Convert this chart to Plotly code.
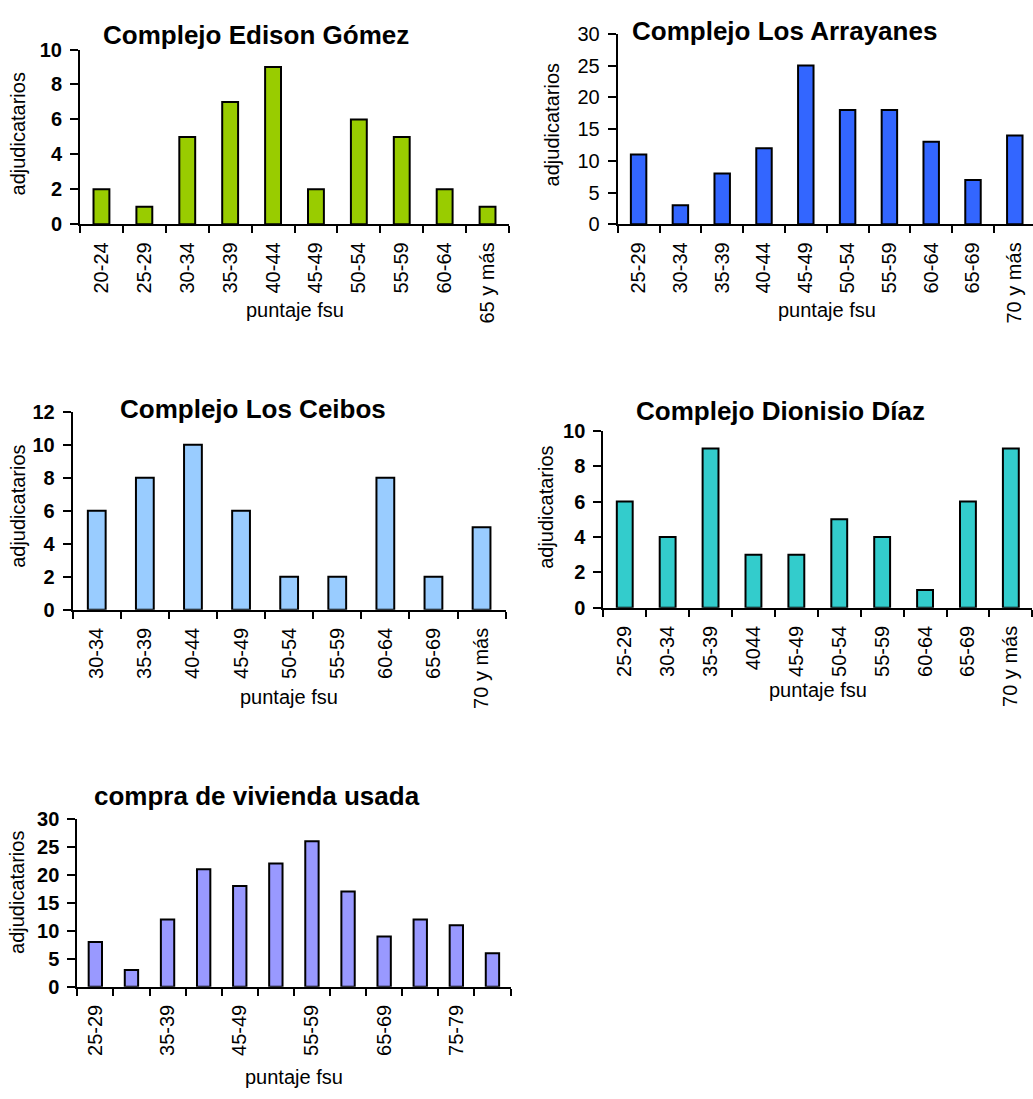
import plotly.graph_objects as go

# ---- data -------------------------------------------------------------
edison_cats = ["20-24", "25-29", "30-34", "35-39", "40-44", "45-49",
               "50-54", "55-59", "60-64", "65 y más"]
edison_vals = [2, 1, 5, 7, 9, 2, 6, 5, 2, 1]

arrayanes_cats = ["25-29", "30-34", "35-39", "40-44", "45-49", "50-54",
                  "55-59", "60-64", "65-69", "70 y más"]
arrayanes_vals = [11, 3, 8, 12, 25, 18, 18, 13, 7, 14]

ceibos_cats = ["30-34", "35-39", "40-44", "45-49", "50-54", "55-59",
               "60-64", "65-69", "70 y más"]
ceibos_vals = [6, 8, 10, 6, 2, 2, 8, 2, 5]

dionisio_cats = ["25-29", "30-34", "35-39", "4044", "45-49", "50-54",
                 "55-59", "60-64", "65-69", "70 y más"]
dionisio_vals = [6, 4, 9, 3, 3, 5, 4, 1, 6, 9]

usada_cats = ["25-29", "30-34", "35-39", "40-44", "45-49", "50-54",
              "55-59", "60-64", "65-69", "70-74", "75-79", "80-84"]
usada_vals = [8, 3, 12, 21, 18, 22, 26, 17, 9, 12, 11, 6]
usada_ticktext = ["25-29", "", "35-39", "", "45-49", "", "55-59", "",
                  "65-69", "", "75-79", ""]

# ---- panel layout (pixel boxes on a 1033 x 1099 page) -----------------
W, H = 1033, 1099
FONT = "Liberation Sans, Arial, sans-serif"

panels = [
    dict(title="Complejo Edison Gómez", cats=edison_cats, vals=edison_vals,
         ticktext=edison_cats, color="#99CC00", ymax=10, dtick=2, bold=True,
         x0=80, x1=509, step=42.9, ytop=39.3, ybot=217.7,
         tx=256, ty=25, ytx=18, yty=126, xty=305),
    dict(title="Complejo Los Arrayanes", cats=arrayanes_cats, vals=arrayanes_vals,
         ticktext=arrayanes_cats, color="#3366FF", ymax=30, dtick=5, bold=False,
         x0=617.7, x1=1033, step=41.8, ytop=23.3, ybot=217.7,
         tx=784, ty=20, ytx=551.7, yty=116, xty=305),
    dict(title="Complejo Los Ceibos", cats=ceibos_cats, vals=ceibos_vals,
         ticktext=ceibos_cats, color="#99CCFF", ymax=12, dtick=2, bold=True,
         x0=72.7, x1=505.8, step=48.1, ytop=409, ybot=611,
         tx=253, ty=406, ytx=18, yty=506, xty=700),
    dict(title="Complejo Dionisio Díaz", cats=dionisio_cats, vals=dionisio_vals,
         ticktext=dionisio_cats, color="#33CCCC", ymax=10, dtick=2, bold=True,
         x0=603.3, x1=1032.3, step=42.9, ytop=428.3, ybot=609,
         tx=780, ty=408, ytx=546, yty=507, xty=693),
    dict(title="compra de vivienda usada", cats=usada_cats, vals=usada_vals,
         ticktext=usada_ticktext, color="#9999FF", ymax=30, dtick=5, bold=True,
         x0=77.3, x1=510.6, step=36.1, ytop=824.3, ybot=995.7,
         tx=257, ty=801, ytx=17, yty=900, xty=1088),
]

fig = go.Figure()
annotations = []
layout_axes = {}

for i, p in enumerate(panels, start=1):
    sfx = "" if i == 1 else str(i)
    fig.add_trace(go.Bar(
        x=p["cats"], y=p["vals"],
        xaxis="x" + sfx, yaxis="y" + sfx,
        width=0.37,
        marker=dict(color=p["color"], line=dict(color="black", width=2)),
        showlegend=False,
        hoverinfo="x+y",
    ))

    span = (p["x1"] - p["x0"]) / p["step"]
    layout_axes["xaxis" + sfx] = dict(
        domain=[p["x0"] / W, min(p["x1"] / W, 1.0)],
        anchor="y" + sfx,
        type="category",
        range=[-0.5, -0.5 + span],
        tickmode="array", tickvals=p["cats"], ticktext=p["ticktext"],
        tickson="boundaries",
        ticks="outside", ticklen=7, tickwidth=2, tickcolor="black",
        tickangle=-90,
        tickfont=dict(family=FONT, size=20, color="black"),
        ticklabelstandoff=8,
        showline=True, linecolor="black", linewidth=2,
        showgrid=False, zeroline=False, fixedrange=True,
    )
    layout_axes["yaxis" + sfx] = dict(
        domain=[1 - p["ybot"] / H, 1 - p["ytop"] / H],
        anchor="x" + sfx,
        range=[0, p["ymax"]],
        tickmode="linear", tick0=0, dtick=p["dtick"],
        ticks="outside", ticklen=8, tickwidth=2, tickcolor="black",
        tickfont=dict(family=FONT, size=20, color="black",
                      weight="bold" if p["bold"] else "normal"),
        ticklabelstandoff=4,
        showline=True, linecolor="black", linewidth=2,
        showgrid=False, zeroline=False, fixedrange=True,
    )

    # chart title
    annotations.append(dict(
        text="<b>%s</b>" % p["title"], x=p["tx"] / W, y=1 - p["ty"] / H,
        xref="paper", yref="paper", xanchor="center", yanchor="middle",
        showarrow=False, font=dict(family=FONT, size=26, color="black"),
    ))
    # y axis title
    annotations.append(dict(
        text="adjudicatarios", x=p["ytx"] / W, y=1 - p["yty"] / H,
        xref="paper", yref="paper", xanchor="center", yanchor="middle",
        textangle=-90, showarrow=False,
        font=dict(family=FONT, size=20, color="black"),
    ))
    # x axis title, centred under the full category run
    full_x1 = p["x0"] + len(p["cats"]) * p["step"]
    annotations.append(dict(
        text="puntaje fsu", x=(p["x0"] + full_x1) / 2 / W,
        y=1 - p["xty"] / H,
        xref="paper", yref="paper", xanchor="center", yanchor="middle",
        showarrow=False, font=dict(family=FONT, size=20, color="black"),
    ))

fig.update_layout(
    width=W, height=H,
    margin=dict(l=0, r=0, t=0, b=0),
    paper_bgcolor="white", plot_bgcolor="white",
    annotations=annotations,
    font=dict(family=FONT, color="black"),
    **layout_axes,
)

# the page body gets no default margin so the figure sits flush at 0,0
fig.write_html("out.html",
               post_script="document.body.style.margin='0';"
                           "document.body.style.overflow='hidden';")
